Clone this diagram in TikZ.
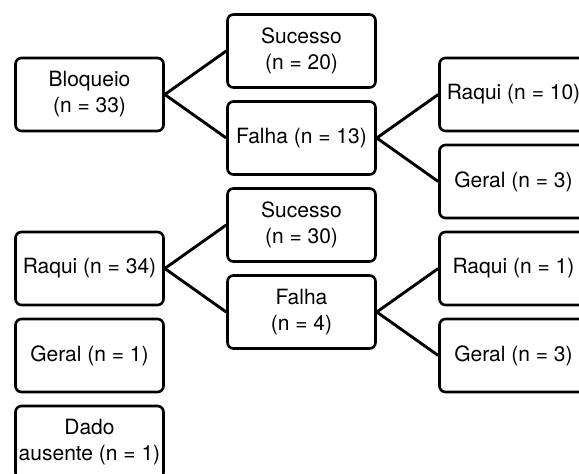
\documentclass[tikz,border=0pt]{standalone}
\usepackage{fontspec}
\setmainfont{TeX Gyre Heros}
\usepackage{tikz}
\usetikzlibrary{calc}
\tikzstyle{box} = [rectangle, rounded corners=6pt, minimum width=148pt, minimum height=73pt, inner sep=1pt, align=center, draw=black, line width=2.6pt, font=\fontsize{21}{26}\selectfont]
\tikzstyle{link} = [line width=2.9pt]

\begin{document}
\begin{tikzpicture}[node distance=87pt]
\useasboundingbox (-89.5pt,94.5pt) rectangle (489.5pt,-379.5pt);
\node(blo)[box]{Bloqueio\\(n = 33)};
\node(suc1)[box,right of=blo,xshift=125pt,yshift=43.5pt]{Sucesso\\(n = 20)};
\node(fal1)[box,below of=suc1]{Falha (n = 13)};
\node(suc2)[box,below of=fal1]{Sucesso\\(n = 30)};
\node(fal2)[box,below of=suc2]{Falha\\(n = 4)};
\node(raq1)[box,right of=fal1,xshift=125pt,yshift=43.5pt]{Raqui (n = 10)};
\node(ger1)[box,below of=raq1]{Geral (n = 3)};
\node(raq2)[box,below of=ger1]{Raqui (n = 1)};
\node(ger2)[box,below of=raq2]{Geral (n = 3)};
\node(raq0)[box,below of=blo,yshift=-87pt]{Raqui (n = 34)};
\node(ger0)[box,below of=raq0]{Geral (n = 1)};
\node(dad)[box,below of=ger0]{Dado\\ausente (n = 1)};

\draw[link] (blo.east) -- (suc1.west);
\draw[link] (blo.east) -- (fal1.west);
\draw[link] (fal1.east) -- (raq1.west);
\draw[link] (fal1.east) -- (ger1.west);
\draw[link] (raq0.east) -- (suc2.west);
\draw[link] (raq0.east) -- (fal2.west);
\draw[link] (fal2.east) -- (raq2.west);
\draw[link] (fal2.east) -- (ger2.west);

\end{tikzpicture}
\end{document}
